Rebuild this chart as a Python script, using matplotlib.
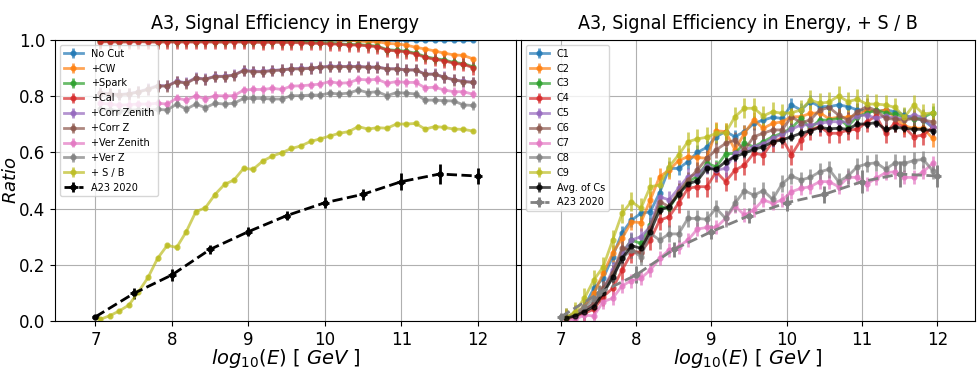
import matplotlib
matplotlib.use("Agg")
import matplotlib.pyplot as plt
import numpy as np

# energy bins (log10 E / GeV), bin centres of width 0.125
bin_centres = np.arange(7.0625, 12.0, 0.125)

# ---- left panel: cumulative cuts ----
eff_no_cut = [1.0] * 40
eff_cw = [1.0] * 27 + [0.996, 0.994, 0.994, 0.988, 0.986, 0.982, 0.974, 0.968,
                       0.961, 0.953, 0.947, 0.945, 0.933]
eff_cal = [0.993, 0.994, 0.992, 0.993, 0.994, 0.993, 0.992, 0.993, 0.992, 0.993,
           0.992, 0.993, 0.992, 0.992, 0.993, 0.992, 0.992, 0.991, 0.992, 0.991,
           0.991, 0.990, 0.988, 0.988, 0.986, 0.985, 0.982, 0.982, 0.979, 0.976,
           0.964, 0.961, 0.958, 0.950, 0.938, 0.931, 0.926, 0.917, 0.913, 0.902]
eff_spark = [0.995, 0.996, 0.994, 0.995, 0.996, 0.995, 0.994, 0.995, 0.994, 0.995,
             0.994, 0.995, 0.994, 0.994, 0.995, 0.994, 0.994, 0.993, 0.994, 0.993,
             0.993, 0.992, 0.990, 0.990, 0.988, 0.987, 0.984, 0.984, 0.981, 0.978,
             0.966, 0.963, 0.960, 0.953, 0.941, 0.934, 0.929, 0.920, 0.916, 0.905]
eff_corr_z = [0.810, 0.808, 0.805, 0.808, 0.815, 0.824, 0.836, 0.836, 0.852, 0.846,
              0.864, 0.860, 0.870, 0.870, 0.875, 0.891, 0.887, 0.887, 0.891, 0.893,
              0.897, 0.897, 0.899, 0.903, 0.905, 0.905, 0.905, 0.905, 0.903, 0.903,
              0.897, 0.897, 0.893, 0.893, 0.878, 0.878, 0.867, 0.858, 0.852, 0.849]
eff_corr_zenith = [0.812, 0.809, 0.806, 0.809, 0.816, 0.826, 0.838, 0.837, 0.853, 0.848,
                   0.866, 0.861, 0.871, 0.871, 0.876, 0.892, 0.889, 0.888, 0.892, 0.894,
                   0.898, 0.899, 0.900, 0.904, 0.907, 0.906, 0.906, 0.906, 0.904, 0.904,
                   0.898, 0.898, 0.894, 0.894, 0.879, 0.879, 0.868, 0.859, 0.853, 0.850]
eff_ver_zenith = [0.775, 0.772, 0.768, 0.770, 0.772, 0.772, 0.775, 0.772, 0.793, 0.786,
                  0.802, 0.790, 0.802, 0.801, 0.802, 0.822, 0.824, 0.824, 0.828, 0.824,
                  0.836, 0.837, 0.840, 0.843, 0.852, 0.846, 0.848, 0.860, 0.858, 0.860,
                  0.846, 0.852, 0.849, 0.849, 0.830, 0.832, 0.822, 0.816, 0.816, 0.807]
eff_ver_z = [0.755, 0.752, 0.748, 0.750, 0.752, 0.751, 0.753, 0.751, 0.772, 0.754,
             0.772, 0.759, 0.775, 0.772, 0.775, 0.792, 0.792, 0.792, 0.790, 0.790,
             0.802, 0.802, 0.804, 0.804, 0.811, 0.808, 0.811, 0.822, 0.813, 0.816,
             0.802, 0.813, 0.811, 0.808, 0.786, 0.786, 0.784, 0.783, 0.769, 0.767]
eff_sb = [0.006, 0.019, 0.036, 0.057, 0.104, 0.155, 0.223, 0.269, 0.262, 0.318,
          0.389, 0.403, 0.450, 0.486, 0.502, 0.543, 0.540, 0.569, 0.587, 0.599,
          0.614, 0.623, 0.639, 0.648, 0.658, 0.668, 0.674, 0.692, 0.683, 0.688,
          0.686, 0.701, 0.701, 0.703, 0.683, 0.692, 0.689, 0.683, 0.682, 0.676]

cut_labels = ["No Cut", "+CW", "+Spark", "+Cal", "+Corr Zenith", "+Corr Z",
              "+Ver Zenith", "+Ver Z", "+ S / B"]
cut_values = [eff_no_cut, eff_cw, eff_spark, eff_cal, eff_corr_zenith, eff_corr_z,
              eff_ver_zenith, eff_ver_z, eff_sb]
cut_errors = [0.003, 0.008, 0.02, 0.025, 0.02, 0.02, 0.015, 0.015, 0.008]

# ---- reference: A23 2020 ----
a23_x = [7.0, 7.5, 8.0, 8.5, 9.0, 9.5, 10.0, 10.5, 11.0, 11.5, 12.0]
a23_y = [0.015, 0.098, 0.164, 0.255, 0.318, 0.375, 0.421, 0.451, 0.496, 0.523, 0.516]
a23_err = [0.005, 0.02, 0.02, 0.017, 0.015, 0.017, 0.02, 0.02, 0.03, 0.035, 0.03]

# ---- right panel: S / B cut variants ----
c1 = [0.010, 0.021, 0.051, 0.116, 0.152, 0.229, 0.314, 0.359, 0.383, 0.389,
      0.457, 0.543, 0.543, 0.567, 0.600, 0.618, 0.656, 0.674, 0.656, 0.674,
      0.703, 0.715, 0.725, 0.721, 0.769, 0.751, 0.781, 0.763, 0.763, 0.769,
      0.763, 0.751, 0.749, 0.745, 0.751, 0.745, 0.733, 0.721, 0.715, 0.689]
c2 = [0.010, 0.027, 0.051, 0.098, 0.170, 0.241, 0.294, 0.353, 0.350, 0.431,
      0.514, 0.537, 0.571, 0.585, 0.582, 0.579, 0.677, 0.674, 0.609, 0.668,
      0.715, 0.686, 0.703, 0.709, 0.727, 0.727, 0.739, 0.741, 0.720, 0.725,
      0.725, 0.733, 0.751, 0.745, 0.751, 0.725, 0.694, 0.686, 0.686, 0.650]
c3 = [0.010, 0.021, 0.039, 0.063, 0.104, 0.170, 0.241, 0.288, 0.276, 0.342,
      0.407, 0.401, 0.454, 0.496, 0.514, 0.561, 0.549, 0.594, 0.597, 0.632,
      0.620, 0.638, 0.656, 0.668, 0.686, 0.721, 0.686, 0.715, 0.715, 0.721,
      0.694, 0.727, 0.739, 0.751, 0.739, 0.737, 0.725, 0.718, 0.725, 0.741]
c4 = [0.006, 0.015, 0.027, 0.042, 0.087, 0.116, 0.181, 0.241, 0.247, 0.288,
      0.359, 0.371, 0.419, 0.472, 0.478, 0.478, 0.531, 0.496, 0.537, 0.555,
      0.597, 0.591, 0.638, 0.650, 0.591, 0.644, 0.680, 0.692, 0.668, 0.668,
      0.680, 0.682, 0.709, 0.730, 0.668, 0.706, 0.689, 0.656, 0.662, 0.689]
c5 = [0.010, 0.021, 0.039, 0.063, 0.110, 0.181, 0.241, 0.288, 0.300, 0.336,
      0.442, 0.431, 0.472, 0.514, 0.522, 0.552, 0.537, 0.543, 0.597, 0.609,
      0.620, 0.630, 0.650, 0.665, 0.682, 0.698, 0.698, 0.703, 0.709, 0.709,
      0.709, 0.730, 0.733, 0.721, 0.730, 0.721, 0.721, 0.733, 0.725, 0.689]
c6 = [0.010, 0.021, 0.037, 0.063, 0.116, 0.170, 0.259, 0.253, 0.241, 0.330,
      0.425, 0.407, 0.460, 0.502, 0.537, 0.579, 0.609, 0.632, 0.644, 0.609,
      0.656, 0.668, 0.680, 0.680, 0.727, 0.706, 0.715, 0.751, 0.760, 0.733,
      0.715, 0.745, 0.763, 0.749, 0.721, 0.718, 0.715, 0.721, 0.715, 0.709]
c7 = [0.004, 0.006, 0.021, 0.018, 0.069, 0.081, 0.125, 0.144, 0.152, 0.181,
      0.223, 0.253, 0.265, 0.288, 0.327, 0.333, 0.333, 0.365, 0.409, 0.377,
      0.395, 0.431, 0.419, 0.431, 0.460, 0.472, 0.478, 0.496, 0.496, 0.478,
      0.511, 0.511, 0.488, 0.508, 0.528, 0.531, 0.511, 0.511, 0.531, 0.561]
c8 = [0.015, 0.027, 0.051, 0.077, 0.108, 0.152, 0.223, 0.253, 0.229, 0.312,
      0.288, 0.310, 0.310, 0.365, 0.365, 0.362, 0.401, 0.365, 0.419, 0.464,
      0.448, 0.464, 0.433, 0.488, 0.516, 0.502, 0.511, 0.531, 0.540, 0.496,
      0.516, 0.549, 0.559, 0.563, 0.540, 0.563, 0.561, 0.571, 0.575, 0.535]
c9 = [0.010, 0.033, 0.081, 0.146, 0.193, 0.288, 0.383, 0.425, 0.401, 0.478,
      0.484, 0.549, 0.591, 0.638, 0.648, 0.654, 0.668, 0.670, 0.727, 0.757,
      0.757, 0.730, 0.745, 0.739, 0.741, 0.751, 0.786, 0.775, 0.779, 0.801,
      0.781, 0.789, 0.772, 0.772, 0.769, 0.760, 0.725, 0.769, 0.737, 0.741]
c_avg = [0.009, 0.018, 0.033, 0.051, 0.098, 0.155, 0.223, 0.268, 0.259, 0.318,
         0.395, 0.407, 0.451, 0.488, 0.499, 0.543, 0.540, 0.567, 0.585, 0.597,
         0.611, 0.620, 0.638, 0.644, 0.656, 0.668, 0.677, 0.689, 0.684, 0.686,
         0.682, 0.701, 0.701, 0.706, 0.682, 0.689, 0.686, 0.682, 0.682, 0.677]

c_labels = ["C1", "C2", "C3", "C4", "C5", "C6", "C7", "C8", "C9"]
c_values = [c1, c2, c3, c4, c5, c6, c7, c8, c9]
c_errors = [0.025, 0.03, 0.025, 0.035, 0.03, 0.03, 0.025, 0.03, 0.035]
c_avg_err = 0.015

colours = plt.rcParams["axes.prop_cycle"].by_key()["color"]

fig = plt.figure(figsize=(9.8, 3.68), dpi=100)
ax_l = fig.add_axes([0.0561, 0.1277, 0.4704, 0.7636])
ax_r = fig.add_axes([0.5316, 0.1277, 0.4633, 0.7636], sharey=ax_l)

style = dict(marker="o", markersize=3.5, linewidth=2, elinewidth=2, alpha=0.7)

for label, vals, err, col in zip(cut_labels, cut_values, cut_errors, colours):
    ax_l.errorbar(bin_centres, vals, yerr=err, color=col, label=label, **style)
ax_l.errorbar(a23_x, a23_y, yerr=a23_err, xerr=0.05, color="black", marker="o",
              markersize=3.5, linewidth=2, elinewidth=2, linestyle="--",
              label="A23 2020")

for label, vals, err, col in zip(c_labels, c_values, c_errors, colours):
    ax_r.errorbar(bin_centres, vals, yerr=err, color=col, label=label, **style)
ax_r.errorbar(bin_centres, c_avg, yerr=c_avg_err, color="black", label="Avg. of Cs",
              **style)
ax_r.errorbar(a23_x, a23_y, yerr=np.array(a23_err) + 0.01, xerr=0.05, color="gray",
              marker="o", markersize=3.5, linewidth=2, elinewidth=2, linestyle="--",
              label="A23 2020")

titles = ["A3, Signal Efficiency in Energy", "A3, Signal Efficiency in Energy, + S / B"]
for ax, title in zip([ax_l, ax_r], titles):
    ax.set_xlim(6.47, 12.5)
    ax.set_ylim(0.0, 1.0)
    ax.set_xticks([7, 8, 9, 10, 11, 12])
    ax.grid(True)
    ax.tick_params(labelsize=12)
    ax.set_title(title, fontsize=14, fontstretch="condensed", pad=8)
    ax.set_xlabel(r"$log_{10}(E)$ [ $GeV$ ]", fontsize=14, labelpad=-1)
    ax.legend(loc="upper left", fontsize=7)
ax_l.set_ylabel(r"$Ratio$", fontsize=13)
ax_l.yaxis.set_label_coords(-0.075, 0.5)
ax_r.tick_params(labelleft=False)

fig.savefig("out.png", dpi=100)
